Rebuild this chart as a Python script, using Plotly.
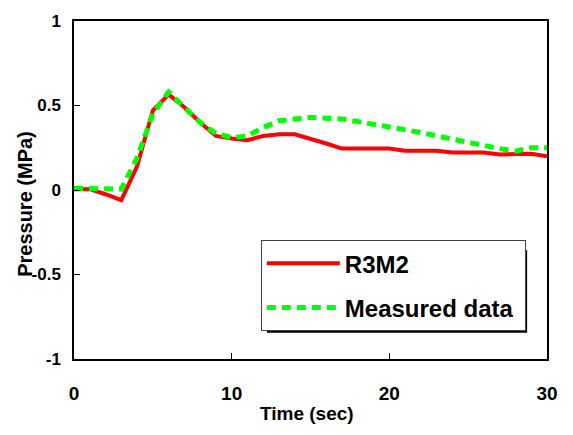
import plotly.graph_objects as go

# Data
time_r = [0, 1, 2, 3, 4, 5, 6, 7, 8, 9, 10, 11, 12, 13, 14, 15, 16, 17, 18, 19, 20,
          21, 22, 23, 24, 25, 26, 27, 28, 29, 30]
r3m2 = [0.005, 0.005, -0.025, -0.06, 0.14, 0.47, 0.565, 0.49, 0.40, 0.32, 0.305,
        0.295, 0.32, 0.33, 0.33, 0.305, 0.275, 0.245, 0.245, 0.245, 0.245,
        0.232, 0.232, 0.232, 0.222, 0.222, 0.222, 0.21, 0.213, 0.215, 0.2]
time_m = [0, 1, 2, 3, 4, 5, 6, 7, 8, 9, 10, 11, 12, 13, 14, 15, 16, 17, 18, 19, 20,
          21, 22, 23, 24, 25, 26, 27, 28, 29, 30]
measured = [0.01, 0.01, 0.005, 0.005, 0.19, 0.45, 0.58, 0.49, 0.40, 0.335, 0.31,
            0.32, 0.37, 0.41, 0.42, 0.43, 0.425, 0.42, 0.405, 0.39, 0.37,
            0.355, 0.34, 0.32, 0.30, 0.28, 0.26, 0.245, 0.23, 0.25, 0.25]
x_ticks = [0, 10, 20, 30]
y_ticks = [-1, -0.5, 0, 0.5, 1]
y_tick_text = ["-1", "-0.5", "0", "0.5", "1"]

FONT = "Liberation Sans, Arial, sans-serif"

fig = go.Figure()
fig.add_trace(go.Scatter(x=time_r, y=r3m2, mode="lines", name="R3M2",
                         line=dict(color="#FF0000", width=4), legendgroup="a"))
fig.add_trace(go.Scatter(x=time_m, y=measured, mode="lines", name="Measured data\u00a0",
                         line=dict(color="#00FF00", width=5, dash="9px,6px"), legendgroup="b"))

fig.update_layout(
    width=573, height=435,
    margin=dict(l=74, r=26, t=15, b=76),
    paper_bgcolor="white", plot_bgcolor="white",
    font=dict(family=FONT, color="black"),
    showlegend=True,
    legend=dict(x=0.395, y=0.3515, xanchor="left", yanchor="top",
                bgcolor="white", bordercolor="#444", borderwidth=1,
                font=dict(family=FONT, size=24, weight="bold", color="black"),
                tracegroupgap=10, itemwidth=73),
    xaxis=dict(range=[0, 30], tickvals=x_ticks, ticks="inside", ticklen=6,
               tickcolor="black", showline=True, linecolor="black", linewidth=1.5,
               mirror=True, showgrid=False, zeroline=False,
               tickfont=dict(family=FONT, size=19, weight="bold", color="black"),
               ticklabelstandoff=16),
    yaxis=dict(range=[-1, 1], tickvals=y_ticks, ticktext=y_tick_text, ticks="inside",
               ticklen=6, tickcolor="black", showline=True, linecolor="black",
               linewidth=1.5, mirror=True, showgrid=False, zeroline=False,
               tickfont=dict(family=FONT, size=17, weight="bold", color="black"),
               ticklabelstandoff=8),
    shapes=[dict(type="rect", xref="paper", yref="paper",
                 x0=0.408, x1=0.958, y0=0.078, y1=0.322,
                 fillcolor="black", line=dict(width=0), layer="above")],
    annotations=[
        dict(text="Time (sec)", xref="paper", yref="paper", x=0.493, y=-0.16,
             xanchor="center", yanchor="middle", showarrow=False,
             font=dict(family=FONT, size=19, weight="bold", color="black")),
        dict(text="Pressure (MPa)", xref="paper", yref="paper", x=-0.1036, y=0.459,
             xanchor="center", yanchor="middle", showarrow=False, textangle=-90,
             font=dict(family=FONT, size=20, weight="bold", color="black")),
    ],
)

fig.write_html("out.html")
